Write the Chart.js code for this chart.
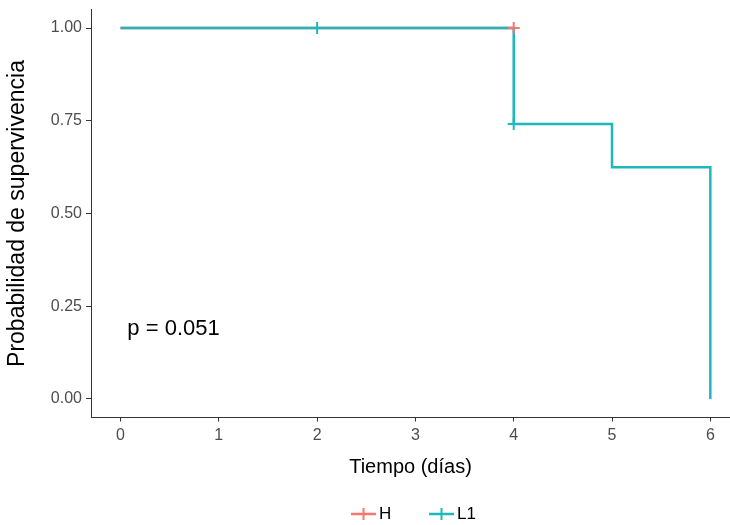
<!DOCTYPE html>
<html>
<head>
<meta charset="utf-8">
<script src="https://cdn.jsdelivr.net/npm/chart.js@4"></script>
<style>
  html, body { margin: 0; padding: 0; background: #ffffff; }
  #wrap { width: 730px; height: 525px; overflow: hidden; }
</style>
</head>
<body>
<div id="wrap"><canvas id="km" width="730" height="525"></canvas></div>
<script>
// Kaplan-Meier estimates per group (time in days, survival probability)
const groupNames = ['H', 'L1'];
const colors = ['#F8766D', '#1CB8BC'];

const hTimes = [0, 4];
const hSurv = [1, 1];
const hCensorTimes = [4];
const hCensorSurv = [1];

const l1Times = [0, 4, 5, 6];
const l1Surv = [1, 0.741, 0.625, 0];
const l1CensorTimes = [2, 4];
const l1CensorSurv = [1, 0.741];

const xTicks = [0, 1, 2, 3, 4, 5, 6];
const yTicks = [0, 0.25, 0.5, 0.75, 1];
const pValueText = 'p = 0.051';

const FONT = '"Liberation Sans", Arial, Helvetica, sans-serif';

const toPoints = (xs, ys) => xs.map((x, i) => ({ x: x, y: ys[i] }));

// p-value annotation and a legend with line + cross keys
const extras = {
  id: 'extras',
  afterDraw(chart) {
    const ctx = chart.ctx;
    const xs = chart.scales.x, ys = chart.scales.y;
    ctx.save();
    ctx.fillStyle = '#000000';
    ctx.font = '22px ' + FONT;
    ctx.textAlign = 'left';
    ctx.textBaseline = 'middle';
    ctx.fillText(pValueText, xs.getPixelForValue(0.07), ys.getPixelForValue(0.19));

    // legend
    const cy = 514;
    const keys = [{ x0: 351, label: groupNames[0], color: colors[0] },
                  { x0: 429, label: groupNames[1], color: colors[1] }];
    ctx.font = '17px ' + FONT;
    keys.forEach(k => {
      ctx.strokeStyle = k.color;
      ctx.lineWidth = 2.5;
      ctx.beginPath();
      ctx.moveTo(k.x0, cy);
      ctx.lineTo(k.x0 + 25, cy);
      ctx.stroke();
      ctx.lineWidth = 2;
      ctx.beginPath();
      ctx.moveTo(k.x0 + 12.5, cy - 6);
      ctx.lineTo(k.x0 + 12.5, cy + 6);
      ctx.stroke();
      ctx.fillStyle = '#000000';
      ctx.fillText(k.label, k.x0 + 28, cy);
    });
    ctx.restore();
  }
};

new Chart(document.getElementById('km'), {
  type: 'scatter',
  data: {
    datasets: [
      {
        label: groupNames[0] + ' censor',
        data: toPoints(hCensorTimes, hCensorSurv),
        showLine: false,
        pointStyle: 'cross',
        pointRadius: 6,
        pointBorderWidth: 2,
        borderColor: colors[0],
        backgroundColor: colors[0],
        order: 0
      },
      {
        label: groupNames[1] + ' censor',
        data: toPoints(l1CensorTimes, l1CensorSurv),
        showLine: false,
        pointStyle: 'cross',
        pointRadius: 6,
        pointBorderWidth: 2,
        borderColor: colors[1],
        backgroundColor: colors[1],
        order: 1
      },
      {
        label: groupNames[1],
        data: toPoints(l1Times, l1Surv),
        showLine: true,
        stepped: true,
        borderColor: colors[1],
        borderWidth: 2.5,
        pointRadius: 0,
        fill: false,
        order: 2
      },
      {
        label: groupNames[0],
        data: toPoints(hTimes, hSurv),
        showLine: true,
        stepped: true,
        borderColor: colors[0],
        borderWidth: 2.5,
        pointRadius: 0,
        fill: false,
        order: 3
      }
    ]
  },
  options: {
    responsive: false,
    devicePixelRatio: 1,
    animation: false,
    layout: { autoPadding: false, padding: { top: 9.5, right: 0, left: 0, bottom: 0 } },
    plugins: {
      legend: { display: false },
      tooltip: { enabled: false }
    },
    scales: {
      x: {
        type: 'linear',
        min: -0.3,
        max: 6.2,
        afterBuildTicks: s => { s.ticks = xTicks.map(v => ({ value: v })); },
        afterFit: s => { s.height = 107.5; s.paddingLeft = 0; s.paddingRight = 0; },
        grid: { display: true, drawOnChartArea: false, drawTicks: true, tickLength: 4, color: '#333333', lineWidth: 1 },
        border: { display: true, color: '#333333', width: 1 },
        ticks: { color: '#4d4d4d', font: { family: FONT, size: 16 }, padding: 4, maxRotation: 0,
                 callback: v => String(v) },
        title: { display: true, text: 'Tiempo (días)', color: '#000000',
                 font: { family: FONT, size: 20 }, padding: { top: 0, bottom: 46 } }
      },
      y: {
        type: 'linear',
        min: -0.05,
        max: 1.05,
        afterBuildTicks: s => { s.ticks = yTicks.map(v => ({ value: v })); },
        afterFit: s => { s.width = 91; s.paddingTop = 0; s.paddingBottom = 0; },
        grid: { display: true, drawOnChartArea: false, drawTicks: true, tickLength: 5, color: '#333333', lineWidth: 1 },
        border: { display: true, color: '#333333', width: 1 },
        ticks: { color: '#4d4d4d', font: { family: FONT, size: 16 }, padding: 4,
                 callback: v => Number(v).toFixed(2) },
        title: { display: true, text: 'Probabilidad de supervivencia', color: '#000000',
                 font: { family: FONT, size: 23 }, padding: { top: 4, bottom: 0 } }
      }
    }
  },
  plugins: [extras]
});
</script>
</body>
</html>
